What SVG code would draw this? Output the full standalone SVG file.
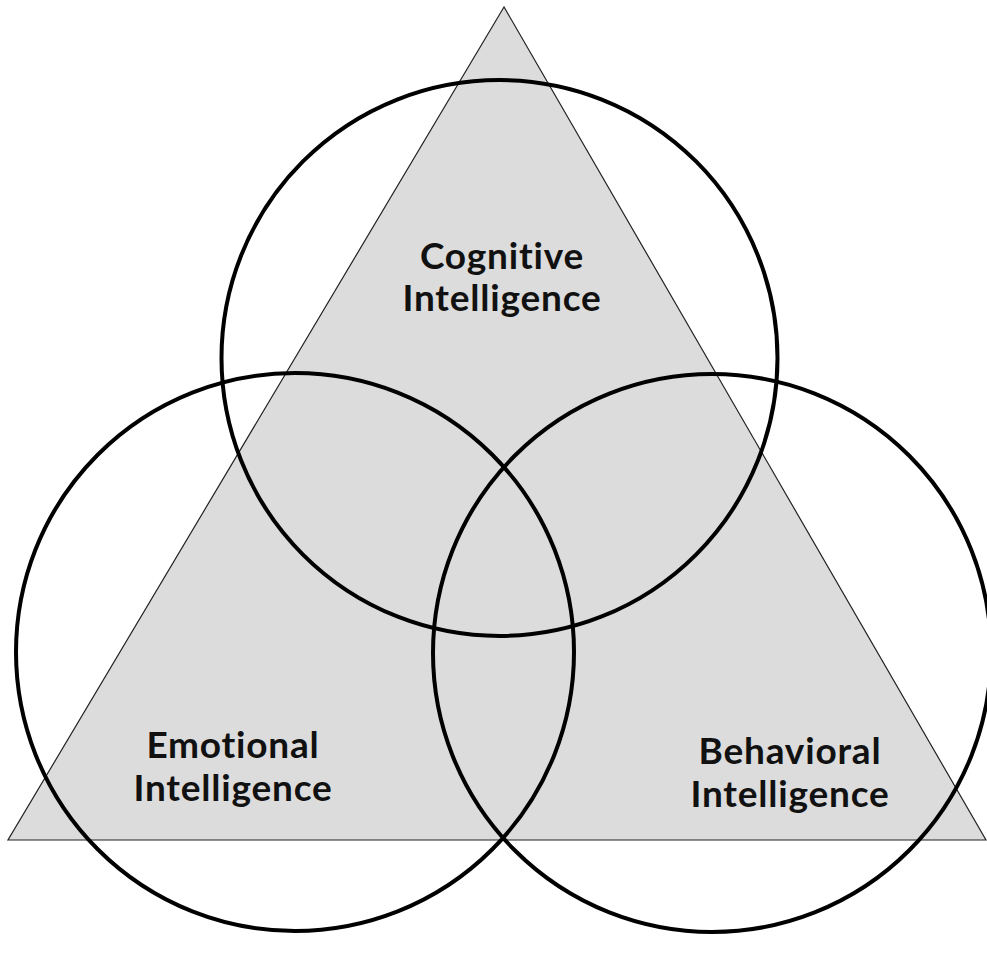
<svg xmlns="http://www.w3.org/2000/svg" width="987" height="953" viewBox="0 0 987 953">
  <style>
    .tri { fill: #dcdcdc; stroke: #222; stroke-width: 1.2; }
    .ring { fill: none; stroke: #000; stroke-width: 4; }
    .label { font-family: Lato, "Noto Sans", sans-serif; font-weight: bold; font-size: 37px; letter-spacing: 0.8px; font-variant-ligatures: none; font-feature-settings: "liga" 0, "clig" 0; fill: #111; text-anchor: middle; }
  </style>
  <rect width="987" height="953" fill="#fff"/>
  <g id="triangle">
    <polygon class="tri" points="504,7 8,840 986,840"/>
  </g>
  <g id="cognitive">
    <circle class="ring" cx="499.5" cy="358" r="278"/>
    <text class="label" x="502" y="269">Cognitive</text>
    <text class="label" x="502" y="311">Intelligence</text>
  </g>
  <g id="emotional">
    <circle class="ring" cx="295" cy="652" r="279"/>
    <text class="label" x="233" y="758">Emotional</text>
    <text class="label" x="233" y="801">Intelligence</text>
  </g>
  <g id="behavioral">
    <circle class="ring" cx="712" cy="653" r="279"/>
    <text class="label" x="790" y="764">Behavioral</text>
    <text class="label" x="790" y="807">Intelligence</text>
  </g>
</svg>
